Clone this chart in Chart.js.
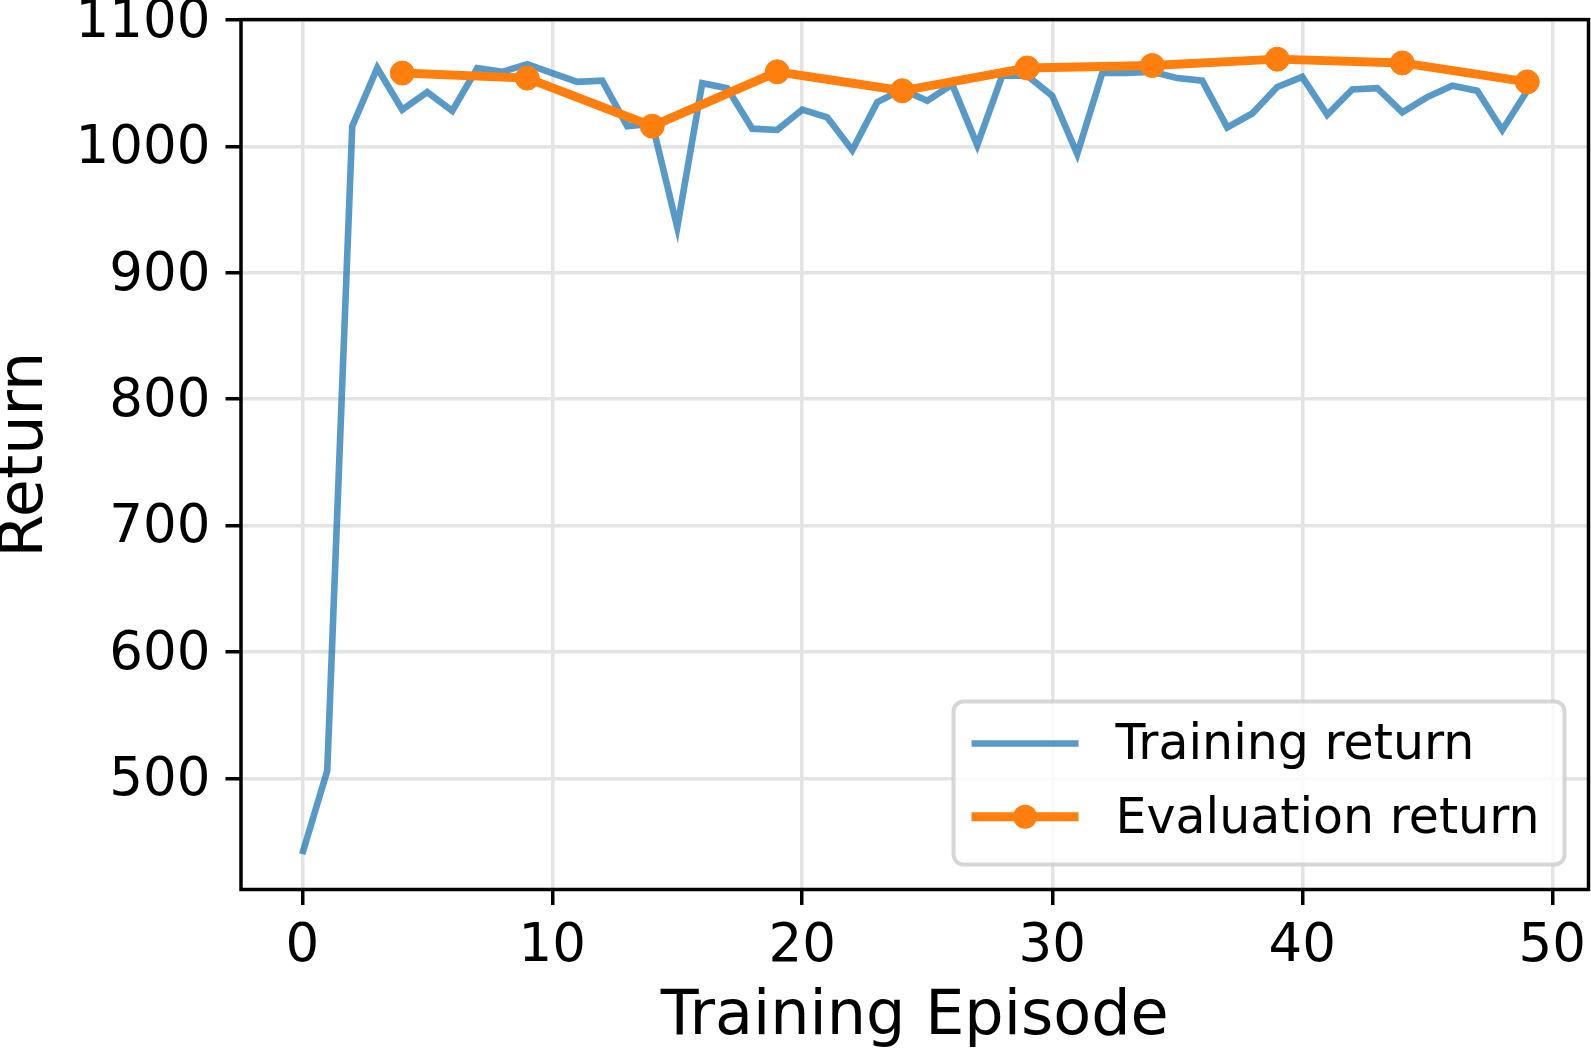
<!DOCTYPE html>
<html>
<head>
<meta charset="utf-8">
<title>Training and evaluation return</title>
<script src="https://cdn.jsdelivr.net/npm/chart.js@4.4.1/dist/chart.umd.min.js"></script>
<style>
  html, body { margin: 0; padding: 0; background: #fff; }
  #wrap { width: 1591px; height: 1048px; }
</style>
</head>
<body>
<div id="wrap"><canvas id="myChart" width="1591" height="1048"></canvas></div>
<script>
// return per training episode (episode = index)
const trainingReturn = [
  440, 506, 1016, 1062, 1029, 1043, 1028, 1062, 1059, 1065,
  1058, 1051, 1052, 1016, 1018, 936, 1050, 1046, 1014, 1013,
  1029, 1023, 997, 1035, 1045, 1036, 1049, 1001, 1056, 1056,
  1040, 994, 1058, 1058, 1059, 1054, 1052, 1015, 1026, 1047,
  1055, 1025, 1045, 1046, 1027, 1039, 1048, 1044, 1013, 1044
];
const evalEpisodes = [4, 9, 14, 19, 24, 29, 34, 39, 44, 49];
const evalReturn = [1058, 1054, 1016, 1059, 1044, 1062, 1064, 1069, 1066, 1051];

const xTicks = [0, 10, 20, 30, 40, 50];
const yTicks = [500, 600, 700, 800, 900, 1000, 1100];

const FONT = "'DejaVu Sans', sans-serif";
const BLUE = "rgba(31, 119, 180, 0.75)";
const ORANGE = "#ff7f0e";

// black box round the plot + legend in the lower right corner
const frameAndLegend = {
  id: "frameAndLegend",
  afterDatasetsDraw(chart) {
    const { ctx, chartArea: a } = chart;
    ctx.save();
    ctx.strokeStyle = "#000";
    ctx.lineWidth = 3.5;
    ctx.strokeRect(a.left, a.top, a.right - a.left, a.bottom - a.top);
    ctx.restore();
  },
  afterDraw(chart) {
    const { ctx, chartArea: a } = chart;
    const sets = chart.data.datasets;
    ctx.save();
    ctx.font = "49px " + FONT;
    let textW = 0;
    sets.forEach((ds) => {
      textW = Math.max(textW, ctx.measureText(ds.label).width);
    });
    const w = 18 + 107 + 37 + textW + 25;
    const h = 163;
    const right = a.right - 24;
    const bottom = a.bottom - 25;
    const left = right - w;
    const top = bottom - h;

    ctx.beginPath();
    ctx.roundRect(left, top, w, h, 10);
    ctx.fillStyle = "rgba(255,255,255,0.8)";
    ctx.fill();
    ctx.lineWidth = 4;
    ctx.strokeStyle = "rgba(204,204,204,0.8)";
    ctx.stroke();

    sets.forEach((ds, i) => {
      const y = top + 42 + i * 73.3;
      const x0 = left + 18;
      const x1 = x0 + 107;
      ctx.beginPath();
      ctx.moveTo(x0, y);
      ctx.lineTo(x1, y);
      ctx.strokeStyle = ds.borderColor;
      ctx.lineWidth = ds.borderWidth;
      ctx.stroke();
      if (ds.pointRadius > 0) {
        ctx.beginPath();
        ctx.arc((x0 + x1) / 2, y, ds.pointRadius, 0, Math.PI * 2);
        ctx.fillStyle = ds.pointBackgroundColor;
        ctx.fill();
      }
      ctx.fillStyle = "#000";
      ctx.textBaseline = "middle";
      ctx.textAlign = "left";
      ctx.fillText(ds.label, x1 + 37, y + 3);
    });
    ctx.restore();
  },
};

const ctx = document.getElementById("myChart");

new Chart(ctx, {
  type: "line",
  data: {
    datasets: [
      {
        label: "Training return",
        data: trainingReturn.map((v, i) => ({ x: i, y: v })),
        borderColor: BLUE,
        borderWidth: 6.6,
        pointRadius: 0,
        tension: 0,
        borderJoinStyle: "miter",
        order: 2,
      },
      {
        label: "Evaluation return",
        data: evalEpisodes.map((ep, i) => ({ x: ep, y: evalReturn[i] })),
        borderColor: ORANGE,
        borderWidth: 8.9,
        pointRadius: 12,
        pointBackgroundColor: ORANGE,
        pointBorderColor: ORANGE,
        pointBorderWidth: 1,
        tension: 0,
        order: 1,
      },
    ],
  },
  options: {
    responsive: false,
    animation: false,
    devicePixelRatio: 1,
    layout: {
      autoPadding: false,
      padding: { top: 19.6, right: 2.5, left: 0, bottom: 0 },
    },
    plugins: {
      legend: { display: false },
      tooltip: { enabled: false },
    },
    scales: {
      x: {
        type: "linear",
        min: -2.45,
        max: 51.45,
        afterBuildTicks: (scale) => {
          scale.ticks = xTicks.map((v) => ({ value: v }));
        },
        afterFit: (scale) => {
          scale.height = 158.5;
          scale.paddingLeft = 0;
          scale.paddingRight = 0;
        },
        border: { display: false },
        grid: {
          color: "#e4e4e4",
          lineWidth: 3.5,
          tickColor: "#000",
          tickLength: 15.5,
          tickWidth: 3.5,
        },
        ticks: {
          color: "#000",
          font: { family: FONT, size: 53 },
          padding: 10,
          maxRotation: 0,
          autoSkip: false,
          callback: (v) => String(v),
        },
        title: {
          display: true,
          text: "Training Episode",
          color: "#000",
          font: { family: FONT, size: 62, lineHeight: 1.2 },
          padding: { top: 0, bottom: -7 },
        },
      },
      y: {
        min: 412,
        max: 1100.3,
        afterBuildTicks: (scale) => {
          scale.ticks = yTicks.map((v) => ({ value: v }));
        },
        afterFit: (scale) => {
          scale.width = 241;
          scale.paddingTop = 0;
          scale.paddingBottom = 0;
        },
        border: { display: false },
        grid: {
          color: "#e4e4e4",
          lineWidth: 3.5,
          tickColor: "#000",
          tickLength: 15.5,
          tickWidth: 3.5,
        },
        ticks: {
          color: "#000",
          font: { family: FONT, size: 53 },
          padding: 15,
          labelOffset: 3,
          autoSkip: false,
          callback: (v) => String(v),
        },
        title: {
          display: true,
          text: "Return",
          color: "#000",
          font: { family: FONT, size: 62, lineHeight: 1.2 },
          padding: { top: -11, bottom: 0 },
        },
      },
    },
  },
  plugins: [frameAndLegend],
});
</script>
</body>
</html>
